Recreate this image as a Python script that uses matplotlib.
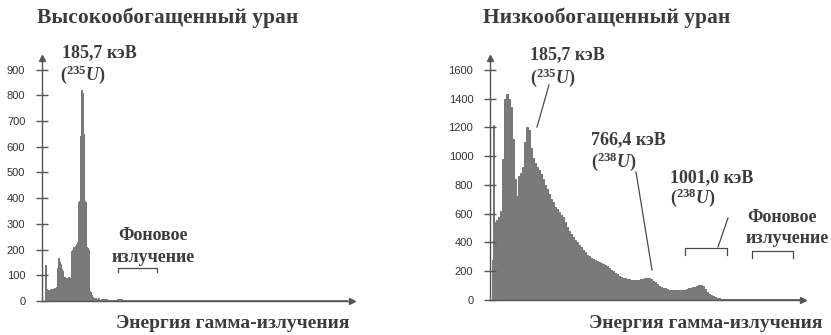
import numpy as np
import matplotlib.pyplot as plt

plt.rcParams['font.family'] = ['Liberation Serif', 'DejaVu Serif']
plt.rcParams['mathtext.fontset'] = 'custom'
plt.rcParams['mathtext.rm'] = 'Liberation Serif:bold'
plt.rcParams['mathtext.it'] = 'Liberation Serif:italic:bold'
plt.rcParams['mathtext.bf'] = 'Liberation Serif:bold'

# высокообогащенный уран: каналы 0..59 (шаг 1), хвост с шагом 5
heu_counts = [0, 0, 0, 140, 45, 40, 42, 38, 45, 40,
              48, 44, 50, 46, 55, 130, 166, 150, 145, 125,
              115, 95, 92, 88, 90, 86, 92, 88, 90, 195,
              200, 210, 205, 215, 220, 230, 385, 390, 640, 820,
              810, 650, 390, 385, 210, 205, 200, 40, 35, 25,
              15, 10, 8, 12, 6, 5, 10, 4, 3, 6]
heu_tail = [9, 5, 4, 6, 3, 4, 3, 5, 3, 4, 4, 3, 5, 3, 4, 3, 3, 4, 3, 5,
            3, 3, 4, 3, 3, 4, 3, 3, 3, 4, 3, 3, 4, 3, 3, 3, 4, 3, 3, 3,
            4, 3, 3, 3, 3, 4, 3, 3, 3]

# низкообогащенный уран: первые каналы с шагом 1, дальше с шагом 2, хвост с шагом 5
leu_head = [0, 0, 280, 1217, 530, 540]
leu_counts = [555, 580, 620, 980, 1400, 1430,
              1400, 1340, 1120, 840, 720, 860, 885, 925, 1100, 1205,
              1180, 1060, 990, 955, 925, 905, 875, 840, 800, 770,
              740, 700, 680, 650, 630, 610, 590, 575, 540, 505,
              480, 460, 440, 420, 400, 385, 370, 350, 335, 315,
              305, 295, 285, 278, 270, 262, 255, 250, 243, 235,
              225, 212, 200, 185, 178, 170, 162, 155, 150, 148,
              145, 140, 138, 139, 137, 140, 144, 148, 152, 150,
              151, 145, 132, 125, 112, 100, 92, 85, 80, 75,
              72, 70, 68, 70, 69, 70, 68, 70, 72, 75,
              80, 85, 88, 92, 98, 102, 105, 95, 75, 58,
              45, 35, 28, 22, 16, 12]
leu_tail = [10, 9, 10, 8, 9, 8, 9, 8, 8, 9, 8, 8, 9, 8, 8, 8]

heu_yticks = [0, 100, 200, 300, 400, 500, 600, 700, 800, 900]
leu_yticks = [0, 200, 400, 600, 800, 1000, 1200, 1400, 1600]

txt = '#3c3c3c'
axc = '#555555'
fill = '#7a7a7a'

fig = plt.figure(figsize=(8.31, 3.35), dpi=100)


def setup(ax, ymax, xmax, yticks):
    ax.set_xlim(0, xmax)
    ax.set_ylim(0, ymax)
    ax.spines['top'].set_visible(False)
    ax.spines['right'].set_visible(False)
    for s in ['left', 'bottom']:
        ax.spines[s].set_color(axc)
        ax.spines[s].set_linewidth(1.0)
    ax.set_xticks([])
    ax.set_yticks(yticks, [str(t) for t in yticks], fontfamily='Liberation Sans',
                  fontsize=8, color='#333333')
    ax.tick_params(axis='y', direction='inout', length=8, width=1, color=axc, pad=8)
    # стрелки на концах осей
    ax.plot(0, 1, marker='^', color=axc, ms=4, transform=ax.transAxes, clip_on=False)
    ax.plot(1, 0, marker='>', color=axc, ms=4, transform=ax.transAxes, clip_on=False)
    ax.set_facecolor('none')


def spectrum(ax, parts):
    # parts: список (ширина канала, значения)
    edges = [0.0]
    vals = []
    for w, v in parts:
        for c in v:
            edges.append(edges[-1] + w)
            vals.append(c)
    ax.stairs(vals, edges, fill=True, facecolor=fill, edgecolor='#6a6a6a', linewidth=0.6)


def label(ax, x, y, s, size=13, ha='left'):
    ax.text(x, y, s, fontsize=size, fontweight='bold', color=txt, ha=ha, va='center',
            clip_on=False)


def line(ax, xs, ys):
    ax.plot(xs, ys, color='#4a4a4a', lw=0.9, clip_on=False)


# левый график
ax1 = fig.add_axes([42 / 831, 34 / 335, 310 / 831, 243 / 335])
setup(ax1, 945, 310, heu_yticks)
spectrum(ax1, [(1, heu_counts), (5, heu_tail)])
label(ax1, 20, 965, '185,7 кэВ')
label(ax1, 18, 879, '($^{235}U$)')
label(ax1, 111, 253, 'Фоновое', ha='center')
label(ax1, 111, 171, 'излучение', ha='center')
line(ax1, [76, 76, 115, 115], [113, 128, 128, 113])

# правый график
ax2 = fig.add_axes([490 / 831, 35 / 335, 313 / 831, 242 / 335])
setup(ax2, 1683, 313, leu_yticks)
spectrum(ax2, [(1, leu_head), (2, leu_counts), (5, leu_tail)])
label(ax2, 40, 1704, '185,7 кэВ')
label(ax2, 40, 1544, '($^{235}U$)')
line(ax2, [59, 47], [1496, 1203])
label(ax2, 101, 1113, '766,4 кэВ')
label(ax2, 101, 960, '($^{238}U$)')
line(ax2, [146, 162], [890, 209])
label(ax2, 180, 849, '1001,0 кэВ')
label(ax2, 180, 710, '($^{238}U$)')
line(ax2, [238, 228], [570, 369])
line(ax2, [195, 195, 237, 237], [313, 362, 362, 313])
label(ax2, 292, 577, 'Фоновое', ha='center')
label(ax2, 297, 431, 'излучение', ha='center')
line(ax2, [262, 262, 303, 303], [292, 341, 341, 292])

# заголовки и подписи осей
fig.text(37 / 831, 1 - 18 / 335, 'Высокообогащенный уран', fontsize=15.5, fontweight='bold',
         color=txt, ha='left', va='center')
fig.text(483 / 831, 1 - 18 / 335, 'Низкообогащенный уран', fontsize=15.5, fontweight='bold',
         color=txt, ha='left', va='center')
fig.text(233 / 831, 1 - 323 / 335, 'Энергия гамма-излучения', fontsize=14, fontweight='bold',
         color=txt, ha='center', va='center')
fig.text(706 / 831, 1 - 323 / 335, 'Энергия гамма-излучения', fontsize=14, fontweight='bold',
         color=txt, ha='center', va='center')

fig.savefig('out.png', dpi=100)
